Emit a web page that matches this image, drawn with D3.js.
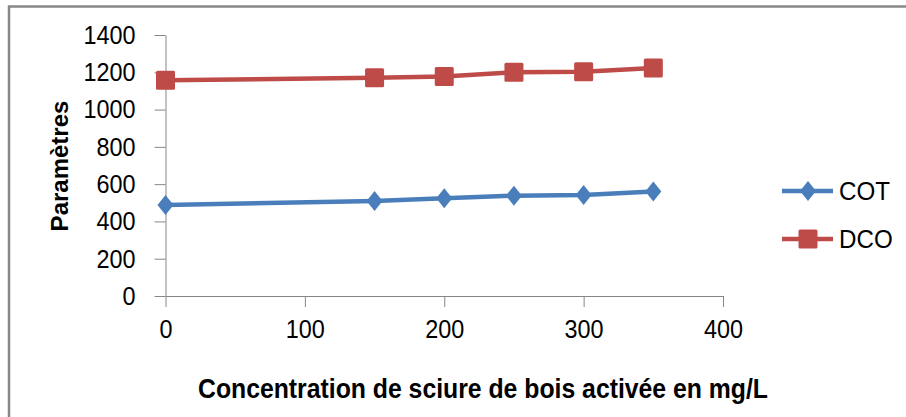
<!DOCTYPE html>
<meta charset="utf-8">
<style>
body { margin: 0; background: #fff; }
svg { display: block; font-family: "Liberation Sans", Arial, sans-serif; }
.axis path, .axis line { stroke: #868686; stroke-width: 1px; }
.axis text { font-size: 26px; fill: #000; }
.line { fill: none; stroke-width: 4.5px; }
.title { font-weight: bold; font-size: 26px; fill: #000; }
.legend text { font-size: 26px; fill: #000; }
</style>
<body>
<svg width="906" height="417"></svg>
<script src="https://d3js.org/d3.v7.min.js"></script>
<script>

// data
var xValues = [0, 150, 200, 250, 300, 350];
var cot = [488, 509, 524, 538, 542, 560];
var dco = [1157, 1171, 1177, 1200, 1203, 1223];
var seriesNames = ["COT", "DCO"];
var xTicks = [0, 100, 200, 300, 400];
var yTicks = [0, 200, 400, 600, 800, 1000, 1200, 1400];

var colors = {COT: "#4A7EBB", DCO: "#BE4B48"};

var svg = d3.select("svg");

// outer frame
svg.append("rect")
    .attr("x", 9).attr("y", 6.5)
    .attr("width", 920).attr("height", 430)
    .attr("fill", "none")
    .attr("stroke", "#888")
    .attr("stroke-width", 2.5);

// scales
var x = d3.scaleLinear().domain([0, 400]).range([165.5, 723]);
var y = d3.scaleLinear().domain([0, 1400]).range([296, 35]);

// axes
var sx = 0.9; // narrow look of the original font
var xAxis = svg.append("g")
    .attr("class", "axis")
    .attr("transform", "translate(0," + y(0) + ")")
    .call(d3.axisBottom(x).tickValues(xTicks).tickFormat(d3.format("d"))
      .tickSize(11).tickSizeOuter(0).tickPadding(13));
xAxis.selectAll("text").attr("transform", "scale(" + sx + ",1)");
xAxis.selectAll(".tick").each(function() {
  // keep label centered under tick after scaling
});

var yAxis = svg.append("g")
    .attr("class", "axis")
    .attr("transform", "translate(" + x(0) + ",0)")
    .call(d3.axisLeft(y).tickValues(yTicks).tickFormat(d3.format("d"))
      .tickSize(11).tickSizeOuter(0).tickPadding(19));
yAxis.selectAll("text")
    .attr("x", -30 / sx)
    .attr("transform", "scale(" + sx + ",1)");

// lines
var valueline = d3.line()
    .x(function(d) { return x(d[0]); })
    .y(function(d) { return y(d[1]); });

var series = [
  {name: "COT", values: xValues.map(function(v, i) { return [v, cot[i]]; })},
  {name: "DCO", values: xValues.map(function(v, i) { return [v, dco[i]]; })}
];

function marker(sel, name, cx, cy) {
  if (name === "COT") {
    sel.append("path")
      .attr("d", "M" + cx + "," + (cy - 10) + "L" + (cx + 8) + "," + cy +
                 "L" + cx + "," + (cy + 10) + "L" + (cx - 8) + "," + cy + "Z")
      .attr("fill", colors.COT);
  } else {
    sel.append("rect")
      .attr("x", cx - 9.5).attr("y", cy - 9.5)
      .attr("width", 19).attr("height", 19)
      .attr("rx", 1.5)
      .attr("fill", colors.DCO);
  }
}

series.forEach(function(s) {
  svg.append("path")
    .datum(s.values)
    .attr("class", "line")
    .attr("stroke", colors[s.name])
    .attr("d", valueline);
  var g = svg.append("g");
  s.values.forEach(function(d) { marker(g, s.name, x(d[0]), y(d[1])); });
});

// legend
var legendY = [191, 239];
seriesNames.forEach(function(name, i) {
  var g = svg.append("g").attr("class", "legend");
  g.append("line")
    .attr("x1", 782).attr("x2", 833)
    .attr("y1", legendY[i]).attr("y2", legendY[i])
    .attr("stroke", colors[name]).attr("stroke-width", 4.5);
  marker(g, name, 808, legendY[i]);
  g.append("text")
    .attr("x", 839 / 0.93).attr("y", legendY[i] + 9)
    .attr("transform", "scale(0.93,1)")
    .text(name);
});

// axis titles
svg.append("text")
    .attr("class", "title")
    .attr("text-anchor", "middle")
    .attr("transform", "translate(68,166) rotate(-90)")
    .style("font-size", "24px")
    .text("Paramètres");

svg.append("text")
    .attr("class", "title")
    .attr("text-anchor", "middle")
    .attr("x", 483).attr("y", 398)
    .attr("textLength", 570)
    .attr("lengthAdjust", "spacingAndGlyphs")
    .style("font-size", "27px")
    .text("Concentration de sciure de bois activée en mg/L");

</script>
</body>
